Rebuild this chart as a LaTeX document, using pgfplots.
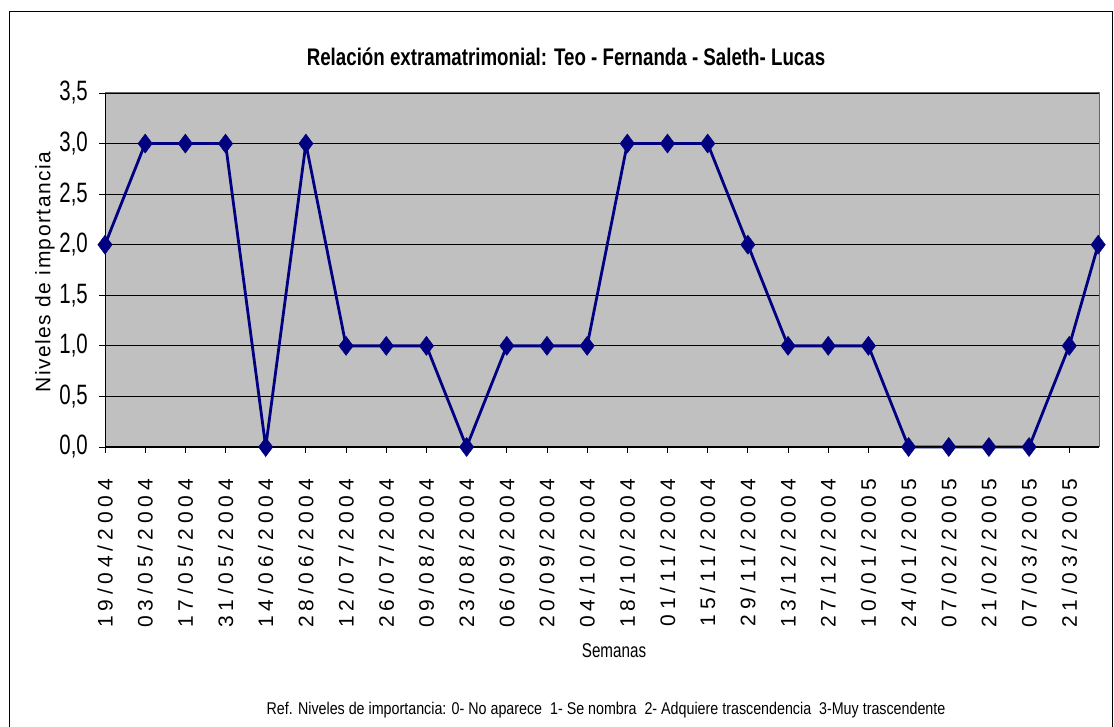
\documentclass[border=0pt]{standalone}
\usepackage{fontspec}
\setmainfont{Liberation Sans}
\newfontfamily\narrowfont[FakeStretch=0.73]{Liberation Sans}
\newfontfamily\titlefont[FakeStretch=0.78]{Liberation Sans}
\newfontfamily\reffont[FakeStretch=0.84]{Liberation Sans}
\newfontfamily\semfont[FakeStretch=0.76]{Liberation Sans}
\newfontfamily\spacedfont[LetterSpace=23]{Liberation Sans}
\newfontfamily\ylabfont[LetterSpace=7]{Liberation Sans}
\usepackage{pgfplots}
\pgfplotsset{compat=1.18}
\definecolor{plotgray}{RGB}{192,192,192}
\definecolor{navy}{RGB}{0,0,128}
\begin{document}
\begin{tikzpicture}[x=1pt,y=1pt]
\path[use as bounding box] (0,0) rectangle (1114,727);
\draw[line width=1pt] (9,-2) -- (9,715) -- (1112,715) -- (1112,-2);
\begin{axis}[
  at={(105pt,280pt)}, anchor=south west,
  scale only axis, width=994pt, height=354pt,
  xmin=0, xmax=24.74, ymin=0, ymax=3.5,
  axis background/.style={fill=plotgray},
  axis line style={draw=gray!80!black, line width=1pt},
  xtick={0,...,24},
  xticklabels={19/04/2004,03/05/2004,17/05/2004,31/05/2004,14/06/2004,28/06/2004,12/07/2004,26/07/2004,09/08/2004,23/08/2004,06/09/2004,20/09/2004,04/10/2004,18/10/2004,01/11/2004,15/11/2004,29/11/2004,13/12/2004,27/12/2004,10/01/2005,24/01/2005,07/02/2005,21/02/2005,07/03/2005,21/03/2005},
  ytick={0,0.5,...,3.5},
  ymajorgrids, major grid style={black, line width=0.8pt},
  tick align=outside, major tick length=6pt,
  tick style={black, line width=0.8pt},
  xtick pos=bottom, ytick pos=left,
  /pgf/number format/assume math mode=true,
  yticklabel={\pgfmathprintnumber[fixed,fixed zerofill,precision=1,use comma]{\tick}},
  yticklabel style={font=\narrowfont\fontsize{28}{28}\selectfont, inner sep=2pt, xshift=-9pt},
  xticklabel style={yshift=-26pt, rotate=90, anchor=east, inner sep=0pt, font=\spacedfont\fontsize{21}{21}\selectfont},
  clip=false,
]
\addplot[navy, line width=2.8pt, mark=diamond*, mark size=9.5pt, mark options={fill=navy, draw=navy, line width=0.5pt}] coordinates {
(0,2) (1,3) (2,3) (3,3) (4,0) (5,3) (6,1) (7,1) (8,1) (9,0) (10,1) (11,1) (12,1) (13,3) (14,3) (15,3) (16,2) (17,1) (18,1) (19,1) (20,0) (21,0) (22,0) (23,0) (24,1) (24.72,2)
};
\draw[black, line width=1pt] (axis cs:0,0) -- (axis cs:24.74,0);
\draw[black, line width=1pt] (axis cs:0,0) -- (axis cs:0,3.5);
\end{axis}
\node[font=\titlefont\bfseries\fontsize{24}{24}\selectfont] at (566,670) {Relación extramatrimonial: Teo - Fernanda - Saleth- Lucas};
\node[font=\ylabfont\fontsize{21}{21}\selectfont, rotate=90] at (45,455) {Niveles de importancia};
\node[font=\semfont\fontsize{20}{20}\selectfont] at (614,76) {Semanas};
\node[font=\reffont\fontsize{17}{17}\selectfont] at (606,17) {Ref. Niveles de importancia: 0- No aparece\ \ 1- Se nombra\ \ 2- Adquiere trascendencia\ \ 3-Muy trascendente};
\end{tikzpicture}
\end{document}
